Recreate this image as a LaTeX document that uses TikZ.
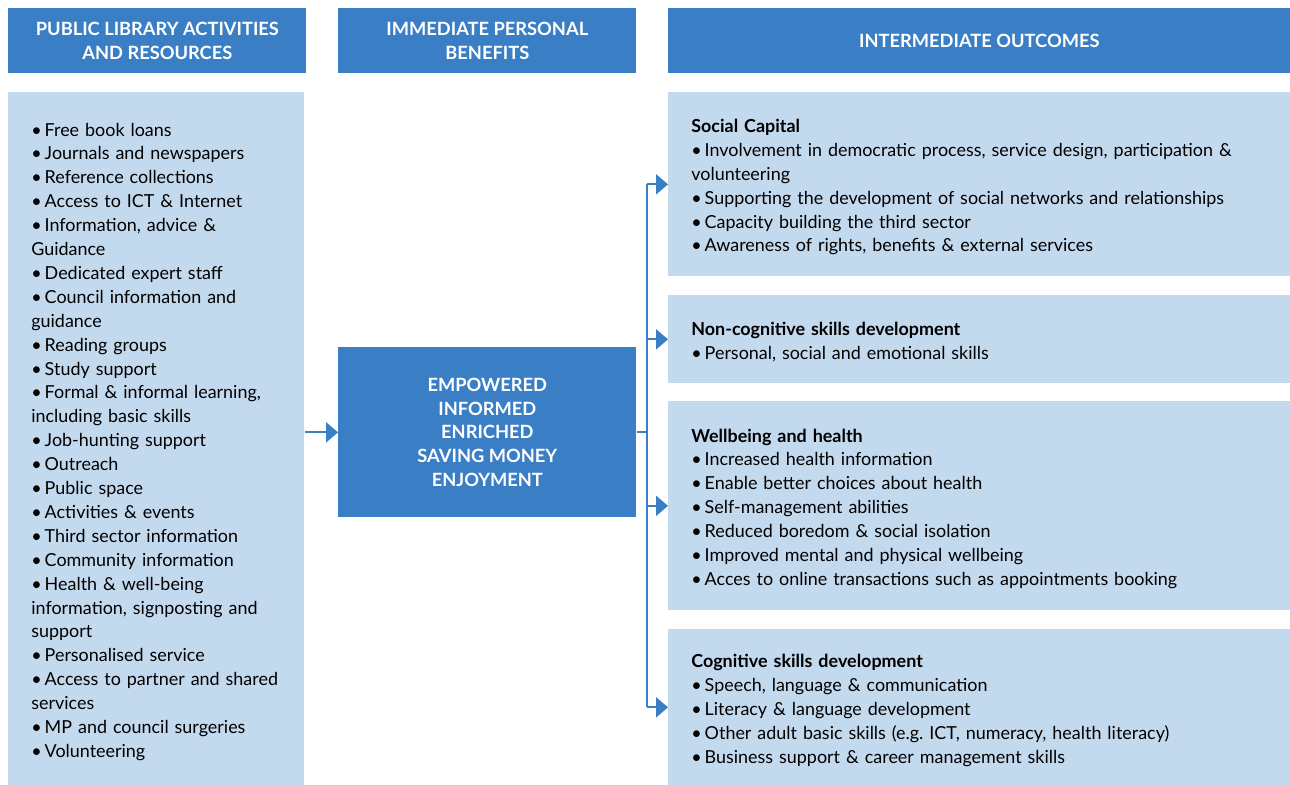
\documentclass[tikz,border=0pt]{standalone}
\usepackage{fontspec}
\setmainfont{Lato}
\usetikzlibrary{arrows.meta}

\definecolor{darkblue}{HTML}{3A7FC5}
\definecolor{lightblue}{HTML}{C3D9EE}
\newcommand{\itm}{\textbullet\,}

\begin{document}
\begin{tikzpicture}[x=0.2mm, y=-0.2mm,
		head_style/.style={fill=darkblue,text=white,inner sep=0pt,anchor=north west,
			align=center,minimum width=59.6mm,minimum height=13mm,
			font=\bfseries\fontsize{10.4}{13.6}\selectfont},
		list_style/.style={fill=lightblue,inner xsep=4.6mm,inner ysep=0pt,anchor=north west,
			align=left,font=\fontsize{10.2}{13.6}\selectfont,
			execute at begin node={\rule{0pt}{3.8mm}}},
		mid_style/.style={fill=darkblue,text=white,inner sep=0pt,anchor=north west,
			align=center,minimum width=59.6mm,minimum height=34mm,
			font=\bfseries\fontsize{10.4}{13.6}\selectfont},
		edge_style/.style={draw=darkblue,line width=1.2pt},
		arrow_style/.style={edge_style,-{Triangle[width=4mm,length=2.4mm]}}]

		\useasboundingbox (0,0) rectangle (1290,785);

		% column headers
		\node[head_style] (h1) at (8,8) {PUBLIC LIBRARY ACTIVITIES\\AND RESOURCES};
		\node[head_style] (h2) at (338,8) {IMMEDIATE PERSONAL\\BENEFITS};
		\node[head_style,minimum width=124.4mm] (h3) at (668,8) {INTERMEDIATE OUTCOMES};

		% activities and resources
		\node[list_style,text width=50mm,minimum height=138.6mm] (act) at (8,92) {%
			\itm Free book loans\\
			\itm Journals and newspapers\\
			\itm Reference collections\\
			\itm Access to ICT \& Internet\\
			\itm Information, advice \&\\
			Guidance\\
			\itm Dedicated expert staff\\
			\itm Council information and\\
			guidance\\
			\itm Reading groups\\
			\itm Study support\\
			\itm Formal \& informal learning,\\
			including basic skills\\
			\itm Job-hunting support\\
			\itm Outreach\\
			\itm Public space\\
			\itm Activities \& events\\
			\itm Third sector information\\
			\itm Community information\\
			\itm Health \& well-being\\
			information, signposting and\\
			support\\
			\itm Personalised service\\
			\itm Access to partner and shared\\
			services\\
			\itm MP and council surgeries\\
			\itm Volunteering};

		% personal benefits
		\node[mid_style] (ben) at (338,347) {EMPOWERED\\INFORMED\\ENRICHED\\SAVING MONEY\\ENJOYMENT};

		% outcomes
		\node[list_style,text width=115.2mm,minimum height=36.8mm] (soc) at (668,92) {%
			\textbf{Social Capital}\\
			\itm Involvement in democratic process, service design, participation \&\\
			volunteering\\
			\itm Supporting the development of social networks and relationships\\
			\itm Capacity building the third sector\\
			\itm Awareness of rights, benefits \& external services};
		\node[list_style,text width=115.2mm,minimum height=17.6mm] (ncog) at (668,295) {%
			\textbf{Non-cognitive skills development}\\
			\itm Personal, social and emotional skills};
		\node[list_style,text width=115.2mm,minimum height=41.8mm] (well) at (668,401) {%
			\textbf{Wellbeing and health}\\
			\itm Increased health information\\
			\itm Enable better choices about health\\
			\itm Self-management abilities\\
			\itm Reduced boredom \& social isolation\\
			\itm Improved mental and physical wellbeing\\
			\itm Acces to online transactions such as appointments booking};
		\node[list_style,text width=115.2mm,minimum height=31.2mm] (cog) at (668,629) {%
			\textbf{Cognitive skills development}\\
			\itm Speech, language \& communication\\
			\itm Literacy \& language development\\
			\itm Other adult basic skills (e.g.\ ICT, numeracy, health literacy)\\
			\itm Business support \& career management skills};

		\coordinate (split) at (647,432);

		\draw[arrow_style] (act.east |- ben.west) -- (ben.west);
		\draw[edge_style] (ben.east |- split) -- (split);
		\draw[edge_style] (split |- soc.west) -- (split |- cog.west);
		\draw[arrow_style] (split |- soc.west) -- (soc.west);
		\draw[arrow_style] (split |- ncog.west) -- (ncog.west);
		\draw[arrow_style] (split |- well.west) -- (well.west);
		\draw[arrow_style] (split |- cog.west) -- (cog.west);
\end{tikzpicture}
\end{document}
